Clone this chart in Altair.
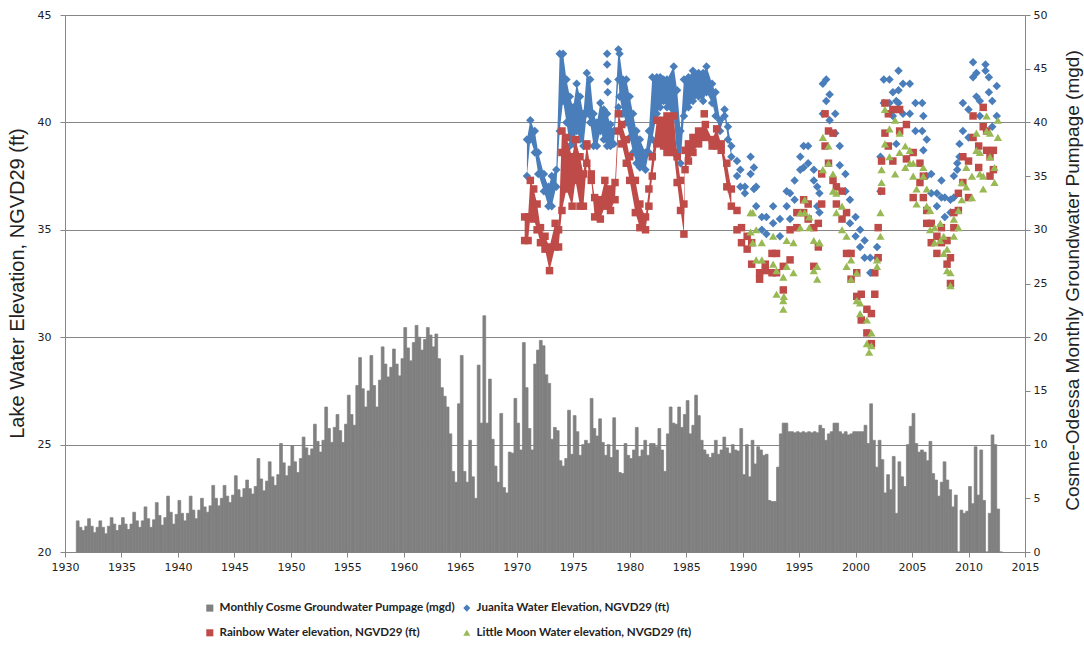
import altair as alt
import pandas as pd

# ---------------- series / legend ----------------
S_PUMP = "Monthly Cosme Groundwater Pumpage (mgd)"
S_JUAN = "Juanita Water Elevation, NGVD29 (ft)"
S_RAIN = "Rainbow Water elevation, NGVD29 (ft)"
S_MOON = "Little Moon Water elevation, NVGD29 (ft)"
series_names = [S_PUMP, S_JUAN, S_RAIN, S_MOON]
series_colors = ["#808080", "#4A7EBB", "#BE4B48", "#98B954"]
series_shapes = ["square", "diamond", "square", "triangle-up"]

x_ticks = list(range(1930, 2016, 5))
left_ticks = [20, 25, 30, 35, 40, 45]
right_ticks = list(range(0, 51, 5))

# ---------------- pumpage (mgd), four readings per year ----------------
pump_first_year = 1931
pump_1930s = [2.9, 2.3, 2.0, 2.4,  3.1, 2.4, 1.8, 2.3,  2.9, 2.3, 1.7, 2.4,
              3.2, 2.6, 2.0, 2.5,  3.2, 2.6, 2.1, 2.6,  3.7, 2.9, 2.3, 2.9,
              4.2, 3.1, 2.3, 3.0,  4.6, 3.4, 2.5, 3.2,  5.2, 3.7, 2.6, 3.5]
pump_1940s = [4.8, 3.6, 2.9, 3.6,  5.2, 3.9, 3.1, 3.9,  5.0, 4.2, 3.7, 4.3,
              6.2, 5.0, 4.3, 5.0,  6.2, 5.2, 4.6, 5.3,  7.1, 5.8, 5.1, 5.9,
              6.7, 5.9, 5.4, 6.1,  8.7, 6.8, 5.7, 6.6,  8.4, 7.0, 6.2, 7.2,
              10.1, 8.3, 7.1, 8.0]
pump_1950s = [9.9, 8.4, 7.4, 8.7,  10.7, 9.7, 9.0, 9.6,  11.9, 10.3, 9.3, 10.4,
              13.5, 11.5, 10.2, 11.6,  12.8, 11.3, 10.2, 11.9,  14.6, 12.8, 11.8, 15.5,
              18.1, 15.2, 13.5, 15.0,  18.3, 15.5, 13.5, 16.0,  19.1, 17.5, 16.3, 17.2,
              18.9, 17.5, 16.4, 18.0]
pump_1960s = [20.9, 19.0, 17.8, 19.5,  21.1, 20.0, 18.8, 19.8,  20.9, 20.2, 19.1, 20.3,
              18.0, 15.3, 14.5, 13.5,  11.0, 7.5, 6.5, 13.8,  18.3, 7.5, 6.5, 10.4,
              7.0, 5.0, 17.4, 12.0,  22.0, 12.0, 16.1, 10.5,  8.0, 6.5, 12.9, 6.0,
              5.5, 9.3, 9.2, 14.3]
pump_1970s = [12.0, 9.5, 19.5, 15.3,  11.5, 9.5, 17.5, 18.8,  19.7, 19.2, 16.5, 15.7,
              10.5, 11.6, 11.3, 8.5,  8.0, 8.7, 13.2, 9.1,  12.7, 11.2, 9.0, 10.0,
              10.4, 10.1, 14.3, 11.5,  10.8, 12.4, 10.2, 9.0,  10.0, 8.8, 12.5, 9.5,
              7.4, 7.3, 10.1, 9.0]
pump_1980s = [8.7, 9.5, 11.6, 8.9,  9.5, 10.4, 9.0, 10.1,  10.1, 9.8, 11.5, 9.5,
              7.5, 11.0, 13.5, 12.0,  11.9, 13.5, 11.6, 12.8,  14.1, 11.0, 11.8, 14.6,
              12.7, 10.4, 9.5, 9.1,  8.8, 9.2, 10.4, 9.1,  9.5, 10.7, 9.7, 9.2,
              10.0, 9.5, 9.4, 11.5]
pump_1990s = [7.2, 10.0, 7.0, 10.4,  8.2, 9.8, 9.5, 9.0,  9.1, 4.8, 4.7, 4.7,
              7.9, 11.0, 12.0, 12.0,  11.2, 11.2, 11.1, 11.2,  11.1, 11.2, 11.1, 11.2,
              11.1, 11.2, 11.1, 11.8,  11.5, 10.4, 11.0, 11.2,  12.0, 12.0, 11.2, 11.0,
              11.2, 10.9, 11.0, 11.2]
pump_2000s = [11.2, 11.2, 11.2, 11.8,  10.1, 13.8, 10.4, 7.9,  10.4, 8.6, 5.5, 7.2,
              5.8, 8.9, 3.6, 8.4,  7.0, 6.1, 10.0, 11.7,  12.9, 10.1, 9.3, 9.5,
              9.3, 8.5, 10.3, 7.3,  6.7, 5.2, 6.5, 8.4,  6.7, 5.8, 4.2, 5.3,
              0.0, 3.9, 3.6, 3.8]
pump_2010s = [6.1, 4.5, 9.8, 5.3,  9.5, 4.8, 0.0, 3.6,  10.9, 10.0, 4.0, 0.0]

# ---------------- lake levels (ft): time, low and high reading ----------------
juanita_t = [1970.9, 1971.2, 1971.6, 1971.9, 1972.4, 1972.8, 1973.1, 1973.5, 1973.8, 1974.1,
             1974.4, 1974.7, 1975.0, 1975.3, 1975.6, 1975.9, 1976.2, 1976.5, 1976.8, 1977.1,
             1977.4, 1977.7, 1978.0, 1978.3, 1978.6, 1979.0, 1979.1, 1979.4, 1979.7, 1980.0,
             1980.3, 1980.6, 1980.9, 1981.4, 1981.7, 1982.0, 1982.4, 1982.7, 1983.0, 1983.3,
             1983.9, 1984.2, 1984.5, 1984.8, 1985.2, 1985.6, 1986.1, 1986.5, 1986.8, 1987.3,
             1987.6, 1988.0, 1988.4, 1988.7, 1989.0, 1989.5, 1989.8, 1990.2, 1990.7, 1991.0,
             1991.2, 1991.7, 1992.1, 1992.7, 1993.3, 1993.9, 1994.2, 1994.6, 1995.1, 1995.4,
             1995.8, 1996.3, 1996.6, 1996.8, 1997.1, 1997.4, 1997.7, 1998.2, 1998.6, 1999.1,
             1999.5, 2000.0, 2000.4, 2000.8, 2001.3, 2001.9, 2002.2, 2002.5, 2003.0, 2003.3,
             2003.6, 2003.8, 2004.2, 2004.8, 2005.3, 2005.9, 2006.0, 2006.3, 2006.7, 2007.2,
             2007.6, 2007.9, 2008.4, 2008.7, 2009.0, 2009.2, 2009.5, 2010.0, 2010.4, 2010.7,
             2011.0, 2011.5, 2011.8, 2012.1, 2012.5]
juanita_lo = [37.5, 39.2, 38.6, 37.6, 36.8, 36.1, 36.1, 37.0, 39.6, 41.0,
              40.0, 38.9, 39.0, 39.6, 39.2, 38.9, 40.4, 40.0, 38.9, 38.9,
              39.6, 39.2, 38.9, 38.9, 39.0, 42.0, 41.2, 40.4, 40.0, 39.3,
              38.6, 38.1, 37.9, 37.8, 38.6, 39.2, 40.4, 40.7, 41.0, 40.7,
              40.3, 38.4, 38.1, 40.3, 40.7, 41.0, 41.2, 41.0, 41.4, 40.9,
              40.3, 39.6, 40.3, 39.2, 38.4, 37.5, 37.0, 36.7, 37.6, 36.9,
              36.1, 35.0, 34.8, 35.3, 34.7, 36.1, 35.5, 36.4, 37.8, 37.9,
              38.1, 37.3, 36.1, 35.8, 40.4, 41.0, 40.1, 39.5, 38.0, 36.8,
              35.3, 34.7, 34.2, 33.7, 33.0, 33.7, 36.8, 40.9, 40.9, 40.3,
              39.0, 40.9, 40.4, 40.4, 39.6, 39.6, 38.7, 37.5, 36.7, 36.1,
              36.5, 35.6, 35.8, 36.5, 37.8, 38.4, 39.6, 39.3, 42.1, 41.2,
              40.3, 42.4, 41.4, 39.8, 40.3]
juanita_hi = [39.2, 40.1, 39.6, 38.6, 37.6, 37.0, 37.5, 37.8, 43.2, 43.2,
              42.0, 41.2, 40.7, 41.8, 41.2, 40.4, 42.3, 42.0, 40.4, 40.0,
              40.9, 40.6, 40.4, 39.9, 39.6, 43.4, 43.2, 42.0, 42.0, 41.2,
              40.4, 39.6, 39.2, 38.6, 39.6, 42.1, 42.1, 42.1, 42.0, 42.0,
              42.6, 41.5, 39.6, 42.0, 42.1, 42.4, 42.3, 42.3, 42.6, 41.8,
              41.4, 40.1, 40.6, 39.8, 38.9, 38.2, 37.8, 37.0, 38.4, 37.9,
              37.0, 35.6, 35.6, 36.1, 35.5, 36.8, 36.7, 37.3, 38.4, 38.9,
              38.9, 37.8, 37.0, 36.7, 41.8, 42.0, 41.3, 40.4, 38.9, 37.6,
              36.4, 35.6, 35.0, 34.5, 33.7, 34.2, 38.4, 42.0, 42.0, 41.4,
              41.0, 41.5, 41.8, 41.8, 40.9, 40.9, 40.3, 39.2, 37.6, 36.7,
              37.3, 36.5, 36.4, 37.5, 38.1, 39.0, 40.9, 40.6, 42.8, 42.3,
              41.0, 42.7, 42.1, 41.0, 41.7]
juanita_extra_t = [1978.0, 1978.0, 1978.05, 1978.05, 1979.0, 2003.8]
juanita_extra_v = [43.2, 42.7, 41.9, 41.4, 40.7, 42.4]

rainbow_t = [1970.7, 1971.0, 1971.2, 1971.5, 1971.8, 1972.1, 1972.5, 1972.9, 1973.4, 1973.7,
             1974.0, 1974.4, 1974.9, 1975.2, 1975.6, 1975.9, 1976.2, 1976.6, 1976.9, 1977.4,
             1977.8, 1978.3, 1978.7, 1979.0, 1979.3, 1979.7, 1980.0, 1980.5, 1980.9, 1981.4,
             1981.7, 1982.0, 1982.4, 1983.0, 1983.3, 1983.9, 1984.2, 1984.5, 1984.8, 1984.9,
             1985.2, 1985.6, 1986.1, 1986.7, 1987.3, 1987.7, 1988.1, 1988.6, 1989.0, 1989.5,
             1989.9, 1990.4, 1990.8, 1991.5, 1992.0, 1992.6, 1993.0, 1993.6, 1994.2, 1994.8,
             1995.4, 1995.8, 1996.3, 1996.7, 1997.0, 1997.3, 1997.6, 1998.0, 1998.3, 1998.8,
             1999.2, 1999.6, 2000.1, 2000.5, 2001.0, 2001.4, 2001.7, 2002.0, 2002.3, 2002.6,
             2002.9, 2003.3, 2003.9, 2004.5, 2005.1, 2005.7, 2006.0, 2006.3, 2006.7, 2007.2,
             2007.6, 2008.1, 2008.4, 2008.7, 2009.1, 2009.5, 2010.0, 2010.4, 2010.9, 2011.3,
             2011.6, 2011.9, 2012.2]
rainbow_lo = [34.5, 34.5, 35.6, 35.5, 35.0, 34.4, 34.1, 33.1, 34.2, 34.2,
              35.9, 36.9, 36.1, 37.3, 36.1, 36.1, 38.1, 37.3, 35.6, 35.5,
              36.1, 35.9, 36.4, 39.6, 39.0, 38.1, 37.3, 35.8, 35.1, 35.0,
              36.1, 37.5, 39.0, 38.9, 38.6, 38.6, 37.2, 35.9, 34.8, 37.8,
              38.2, 38.6, 39.0, 39.3, 38.9, 38.9, 38.7, 37.0, 36.1, 35.0,
              34.4, 34.1, 33.4, 32.7, 33.1, 33.0, 33.0, 32.2, 33.6, 35.1,
              35.8, 35.5, 33.3, 34.2, 36.2, 38.9, 38.1, 37.3, 36.2, 35.5,
              33.9, 32.7, 31.9, 30.8, 30.2, 29.7, 32.0, 33.7, 36.8, 39.5,
              38.9, 38.2, 39.6, 38.3, 36.5, 37.2, 36.5, 35.3, 34.4, 33.9,
              34.4, 33.4, 32.5, 35.1, 35.9, 37.2, 36.5, 39.3, 37.9, 39.8,
              38.7, 37.5, 37.8]
rainbow_hi = [35.6, 35.6, 37.3, 36.9, 36.2, 35.1, 34.7, 34.2, 35.3, 35.0,
              39.6, 39.3, 38.4, 39.2, 38.4, 37.6, 39.0, 37.6, 36.5, 36.4,
              37.3, 36.9, 37.2, 40.4, 39.9, 39.2, 38.4, 37.3, 36.2, 35.6,
              36.9, 38.4, 40.1, 40.1, 40.3, 40.3, 38.4, 37.3, 36.2, 38.7,
              39.0, 39.3, 39.6, 39.9, 39.2, 39.7, 39.0, 38.1, 36.9, 35.9,
              35.1, 34.7, 34.4, 33.0, 33.4, 33.9, 33.9, 33.3, 35.0, 35.8,
              36.4, 36.2, 35.1, 35.3, 37.6, 40.4, 39.6, 39.5, 37.0, 36.8,
              35.8, 33.9, 33.0, 32.0, 31.3, 31.1, 33.0, 35.1, 38.2, 40.9,
              40.4, 40.6, 40.6, 39.9, 38.6, 38.1, 37.5, 35.9, 35.3, 34.7,
              35.1, 34.5, 33.7, 35.8, 36.7, 38.4, 38.2, 40.3, 38.9, 40.7,
              39.6, 38.4, 38.7]
rainbow_extra_t = [1976.2, 1986.6, 1974.0]
rainbow_extra_v = [38.9, 40.4, 38.6]

moon_t = [1990.7, 1990.9, 1991.2, 1991.7, 1992.7, 1993.0, 1993.6, 1993.9, 1994.5, 1995.1,
          1995.5, 1995.9, 1996.3, 1996.6, 1996.8, 1997.1, 1997.6, 1998.0, 1998.3, 1998.8,
          1999.2, 1999.6, 2000.1, 2000.4, 2001.0, 2001.4, 2001.9, 2002.2, 2002.3, 2002.6,
          2003.0, 2003.5, 2003.9, 2004.4, 2004.8, 2005.1, 2005.4, 2006.0, 2006.3, 2006.6,
          2007.0, 2007.5, 2007.8, 2008.1, 2008.4, 2008.7, 2009.1, 2009.4, 2009.8, 2010.3,
          2010.7, 2011.0, 2011.3, 2011.6, 2011.9, 2012.3, 2012.6]
moon_lo = [34.9, 34.4, 33.6, 33.6, 33.4, 32.0, 31.7, 33.3, 33.0, 35.1,
           35.8, 35.1, 33.1, 32.7, 34.4, 37.8, 38.1, 36.8, 35.8, 35.0,
           33.3, 32.7, 31.7, 31.1, 29.7, 29.6, 33.3, 34.7, 37.2, 39.0,
           38.4, 37.6, 38.6, 37.9, 38.1, 37.5, 36.2, 37.5, 36.1, 35.0,
           34.4, 34.5, 33.9, 33.1, 32.4, 34.7, 35.1, 36.4, 37.0, 36.5,
           38.7, 37.6, 36.9, 39.6, 38.4, 37.2, 39.3]
moon_hi = [35.8, 35.8, 35.0, 34.4, 34.7, 33.1, 32.8, 34.5, 34.4, 35.8,
           36.4, 35.6, 34.5, 33.3, 34.4, 39.3, 38.9, 37.6, 36.7, 36.1,
           34.7, 33.6, 33.0, 31.6, 30.8, 30.2, 33.6, 35.8, 37.8, 40.6,
           39.7, 40.1, 39.5, 38.9, 38.7, 38.1, 36.9, 37.9, 36.9, 35.9,
           35.1, 35.3, 34.7, 34.1, 33.0, 35.5, 35.9, 37.2, 37.9, 37.5,
           39.5, 38.6, 37.5, 40.3, 39.5, 37.9, 40.1]
moon_extra_t = [1993.6, 1993.65, 2001.2]
moon_extra_v = [31.3, 31.9, 29.3]

# ---------------- tables ----------------
pump_values = (pump_1930s + pump_1940s + pump_1950s + pump_1960s + pump_1970s
               + pump_1980s + pump_1990s + pump_2000s + pump_2010s)
pump_df = pd.DataFrame({
    "t0": [pump_first_year + i / 4 for i in range(len(pump_values))],
    "t1": [pump_first_year + (i + 1) / 4 for i in range(len(pump_values))],
    "mgd": pump_values,
    "series": S_PUMP,
})


def band_df(name, t, lo, hi, until):
    d = pd.DataFrame({"t": t, "lo": lo, "hi": hi, "series": name})
    return d[d["t"] <= until]


def point_df(name, t, lo, hi, et, ev):
    return pd.DataFrame({"t": list(t) + list(t) + list(et),
                         "ft": list(lo) + list(hi) + list(ev),
                         "series": name})


FONT_TICK = "DejaVu Sans"
FONT_TITLE = "Liberation Sans"
AXIS_GRAY = "#868686"

legend = alt.Legend(title=None, orient="none", legendX=139, legendY=587, columns=2,
                    direction="horizontal", gridAlign="each",
                    symbolSize=50, symbolStrokeWidth=0, labelFont="Lato",
                    labelFontWeight="bold", labelFontSize=11.6, labelColor="#222222",
                    labelLimit=500, rowPadding=12, columnPadding=5, labelOffset=4,
                    padding=0)
color_enc = alt.Color("series:N", scale=alt.Scale(domain=series_names, range=series_colors),
                      legend=legend)
shape_enc = alt.Shape("series:N", scale=alt.Scale(domain=series_names, range=series_shapes),
                      legend=legend)

x_scale = alt.Scale(domain=[1930, 2015], nice=False, zero=False)
x_axis = alt.Axis(values=x_ticks, format="d", title=None, grid=False, tickSize=5,
                  tickColor=AXIS_GRAY, domainColor=AXIS_GRAY, labelFont=FONT_TICK,
                  labelFontSize=11, labelColor="#222222", labelPadding=4,
                  labelFlush=False, labelOverlap=False)

right_axis = alt.Axis(orient="right", values=right_ticks, grid=False, tickSize=5,
                      tickColor=AXIS_GRAY, domainColor=AXIS_GRAY, labelFont=FONT_TICK,
                      labelFontSize=11, labelColor="#222222", labelPadding=3,
                      labelFlush=False,
                      title="Cosme-Odessa Monthly Groundwater Pumpage (mgd)",
                      titleFont=FONT_TITLE, titleFontSize=19, titleFontWeight="normal",
                      titleColor="#222222", titleAngle=270, titleBaseline="middle",
                      titleAlign="center", titleX=47, titleY=265)
left_axis = alt.Axis(orient="left", values=left_ticks, grid=True, gridColor=AXIS_GRAY,
                     gridWidth=1, tickSize=5, tickColor=AXIS_GRAY, domainColor=AXIS_GRAY,
                     labelFont=FONT_TICK, labelFontSize=11, labelColor="#222222",
                     labelPadding=9, labelFlush=False,
                     title="Lake Water Elevation, NGVD29 (ft)",
                     titleFont=FONT_TITLE, titleFontSize=20, titleFontWeight="normal",
                     titleColor="#222222", titleAngle=270, titleBaseline="middle",
                     titleAlign="center", titleX=-48, titleY=268)
left_scale = alt.Scale(domain=[20, 45], nice=False, zero=False)

bars = alt.Chart(pump_df).mark_bar(stroke="#808080", strokeWidth=0.7).encode(
    x=alt.X("t0:Q", scale=x_scale, axis=x_axis),
    x2="t1",
    y=alt.Y("mgd:Q", scale=alt.Scale(domain=[0, 50], nice=False), axis=right_axis),
    y2=alt.datum(0),
    color=color_enc,
)

series_data = [
    (S_JUAN, juanita_t, juanita_lo, juanita_hi, juanita_extra_t, juanita_extra_v, 1989.1, 72),
    (S_RAIN, rainbow_t, rainbow_lo, rainbow_hi, rainbow_extra_t, rainbow_extra_v, 1989.1, 56),
    (S_MOON, moon_t, moon_lo, moon_hi, moon_extra_t, moon_extra_v, 1900.0, 68),
]
elev_layers = []
for name, t, lo, hi, et, ev, until, size in series_data:
    bd = band_df(name, t, lo, hi, until)
    if len(bd):
        elev_layers.append(
            alt.Chart(bd).mark_area(opacity=1).encode(
                x=alt.X("t:Q", scale=x_scale, axis=x_axis),
                y=alt.Y("lo:Q", scale=left_scale, axis=left_axis),
                y2="hi",
                color=color_enc,
            )
        )
    elev_layers.append(
        alt.Chart(point_df(name, t, lo, hi, et, ev)).mark_point(
            filled=True, opacity=1, size=size, strokeWidth=0
        ).encode(
            x=alt.X("t:Q", scale=x_scale, axis=x_axis),
            y=alt.Y("ft:Q", scale=left_scale, axis=left_axis),
            color=color_enc,
            shape=shape_enc,
        )
    )

elev = alt.layer(*elev_layers)

chart = alt.layer(bars, elev).resolve_scale(y="independent").properties(
    width=960, height=537,
    autosize=alt.AutoSizeParams(type="none"),
    padding={"left": 65, "top": 15, "right": 59, "bottom": 98},
    background="white",
).configure_view(stroke=None)

chart.save("out.html", embed_options={"renderer": "svg", "actions": False})
